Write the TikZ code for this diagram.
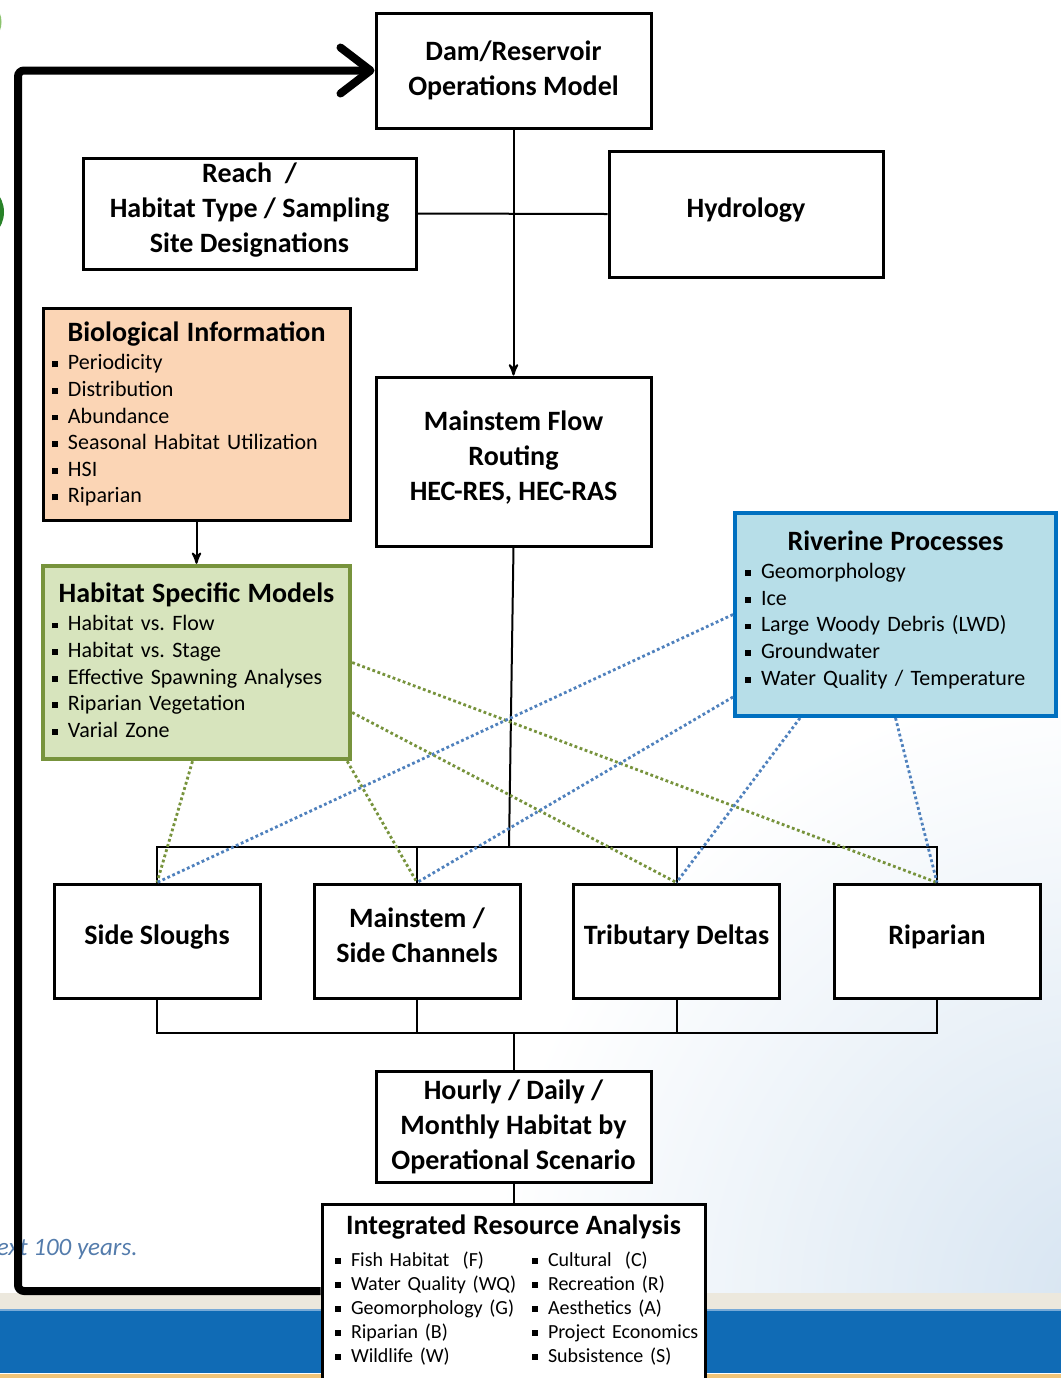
\documentclass[tikz,border=0pt]{standalone}
\usepackage{fontspec}
\setmainfont{Carlito}
\usetikzlibrary{arrows,arrows.meta,positioning}

\definecolor{peach}{RGB}{251,213,181}
\definecolor{sage}{RGB}{215,228,189}
\definecolor{olive}{RGB}{119,147,60}
\definecolor{sky}{RGB}{183,222,232}
\definecolor{ocean}{RGB}{0,112,192}
\definecolor{dotblue}{RGB}{79,129,189}
\definecolor{bgblue}{RGB}{214,228,241}
\definecolor{beige}{RGB}{236,232,221}
\definecolor{band}{RGB}{16,107,181}
\definecolor{bandlt}{RGB}{120,170,215}
\definecolor{rim}{RGB}{240,196,120}
\definecolor{slogan}{RGB}{84,124,172}
\definecolor{leaf}{RGB}{40,130,40}
\definecolor{leaflt}{RGB}{140,195,110}

\newcommand{\hd}{\bfseries\fontsize{14}{17.5}\selectfont}
\newcommand{\lstf}{\fontsize{11}{13.3}\selectfont}
\newcommand{\sml}{\fontsize{10}{12}\selectfont}
\newcommand{\bul}{\makebox[8pt][l]{\rule[0.25ex]{2.9pt}{2.9pt}}}
\newcommand{\colm}[1]{\hspace*{3.5pt}\makebox[98.5pt][l]{#1}}
\newcommand{\dn}[1]{\rule[-#1]{0pt}{#1}}
\frenchspacing

\begin{document}
\begin{tikzpicture}[x=0.5pt,y=-0.5pt,>=stealth',
                    box/.style={draw,line width=1.5pt,fill=white,align=center,inner sep=0pt,font=\hd},
                    lst/.style={draw,line width=1.5pt,fill=white,align=left,inner xsep=4.5pt,inner ysep=3pt,font=\lstf},
                    wire/.style={line width=1pt},
                    fb/.style={line width=4pt,rounded corners=3pt,-{Straight Barb[length=15pt,width=23pt,round]}},
                    gdot/.style={draw=olive,line width=1.4pt,dash pattern=on 1.4pt off 1.3pt},
                    bdot/.style={draw=dotblue,line width=1.4pt,dash pattern=on 1.4pt off 1.3pt}]

  \useasboundingbox (0,0) rectangle (1061,1378);
  \fill[white] (0,0) rectangle (1061,1378);
  \begin{scope}
    \clip (0,0) rectangle (1061,1293);
    \shade[inner color=bgblue,outer color=white] (1110,1300) circle (310pt);
  \end{scope}
  \fill[beige] (0,1293) rectangle (1061,1309);
  \fill[band] (0,1309) rectangle (1061,1373);
  \fill[bandlt] (0,1309) rectangle (1061,1311);
  \fill[rim] (0,1374) rectangle (1061,1378);
  \draw[leaf,line width=2pt] (-26,212) circle (14pt);
  \draw[leaflt,line width=1.5pt] (-22,22) circle (11pt);
  \node[anchor=base east,inner sep=0pt,text=slogan,font=\itshape\fontsize{12.5}{15}\selectfont] (tag) at (138,1255) {next 100 years.};

  \node[box,minimum width=137.5pt,minimum height=57.5pt] (dam) at (513.5,70.5) {Dam/Reservoir\\Operations Model};
  \node[box,minimum width=166.5pt,minimum height=55.5pt] (rch) at (249.5,213.5) {Reach~~/\\Habitat Type / Sampling\\Site Designations\dn{5.7pt}};
  \node[box,minimum width=137pt,minimum height=63pt] (hyd) at (746,214) {Hydrology\dn{6.7pt}};
  \node[box,minimum width=137.5pt,minimum height=84.5pt] (mfr) at (513.5,461.5) {Mainstem Flow\\Routing\\HEC-RES, HEC-RAS\dn{6pt}};

  \node[lst,fill=peach,text width=144.5pt,minimum height=106pt] (bio) at (196.5,414)
    {{\centering\hd Biological Information\par}\vspace{1pt}
     \bul Periodicity\\ \bul Distribution\\ \bul Abundance\\
     \bul Seasonal Habitat Utilization\\ \bul HSI\\ \bul Riparian};
  \node[lst,fill=sage,draw=olive,line width=2.2pt,text width=144.5pt,minimum height=96.5pt] (hsm) at (196.5,662.5)
    {{\centering\hd Habitat Specific Models\par}\vspace{1pt}
     \bul Habitat vs. Flow\\ \bul Habitat vs. Stage\\ \bul Effective Spawning Analyses\\
     \bul Riparian Vegetation\\ \bul Varial Zone\dn{2.5pt}};
  \node[lst,fill=sky,draw=ocean,line width=2pt,inner xsep=5pt,text width=150.5pt,minimum height=101.5pt] (rvp) at (895.5,614.5)
    {{\centering\hd Riverine Processes\par}\vspace{1pt}
     \bul Geomorphology\\ \bul Ice\\ \bul Large Woody Debris (LWD)\\
     \bul Groundwater\\ \bul Water Quality / Temperature\dn{6.7pt}};

  \node[box,minimum width=103pt,minimum height=57pt] (sls) at (157,941) {Side Sloughs\dn{6.7pt}};
  \node[box,minimum width=103pt,minimum height=57pt] (msc) at (417,941) {Mainstem /\\Side Channels\dn{6pt}};
  \node[box,minimum width=103pt,minimum height=57pt] (trd) at (676.5,941) {Tributary Deltas\dn{6.7pt}};
  \node[box,minimum width=103pt,minimum height=57pt] (rip) at (937,941) {Riparian\dn{6.7pt}};

  \node[box,minimum width=137.5pt,minimum height=55.5pt] (hrl) at (513.5,1126.5) {Hourly / Daily /\\Monthly Habitat by\\Operational Scenario};
  \node[lst,anchor=north,inner xsep=3pt,inner ysep=5pt,text width=185.5pt,font=\sml] (ira) at (513.5,1203)
    {{\centering\hd Integrated Resource Analysis\par}\vspace{4pt}
     \colm{\bul Fish Habitat~~(F)}\bul Cultural~~(C)\\
     \colm{\bul Water Quality (WQ)}\bul Recreation (R)\\
     \colm{\bul Geomorphology (G)}\bul Aesthetics (A)\\
     \colm{\bul Riparian (B)}\bul Project Economics\\
     \colm{\bul Wildlife (W)}\bul Subsistence (S)\dn{16pt}};

  \coordinate (hub) at (509,847);
  \coordinate (sink) at (513.5,1033);
  \coordinate (ret) at (18,70.5);

  \draw[wire,->] (dam.south) -- (mfr.north);
  \draw[wire] (rch.east) -- (hyd.west);
  \draw[wire,->] (bio.south) -- (hsm.north);
  \draw[wire] (mfr.south) -- (hub);
  \draw[wire] (sls.north) |- (hub) -| (rip.north);
  \draw[wire] (msc.north) -- (msc.north |- hub);
  \draw[wire] (trd.north) -- (trd.north |- hub);
  \draw[wire] (sls.south) |- (sink) -| (rip.south);
  \draw[wire] (msc.south) -- (msc.south |- sink);
  \draw[wire] (trd.south) -- (trd.south |- sink);
  \draw[wire] (sink) -- (hrl.north);
  \draw[wire] (hrl.south) -- (ira.north);

  \draw[gdot] ([xshift=-2pt]hsm.south) -- (sls.north);
  \draw[gdot] ([xshift=-2.5pt]hsm.south east) -- (msc.north);
  \draw[gdot] (hsm.east) -- (rip.north);
  \draw[gdot] ([yshift=-25pt]hsm.east) -- (trd.north);
  \draw[bdot] (rvp.west) -- (sls.north);
  \draw[bdot] ([yshift=10.5pt]rvp.south west) -- (msc.north);
  \draw[bdot] ([xshift=33.5pt]rvp.south west) -- (trd.north);
  \draw[bdot] (rvp.south) -- (rip.north);

  \draw[fb] ([yshift=-44pt]ira.north west) -| (ret) -- (dam.west);

\end{tikzpicture}
\end{document}
